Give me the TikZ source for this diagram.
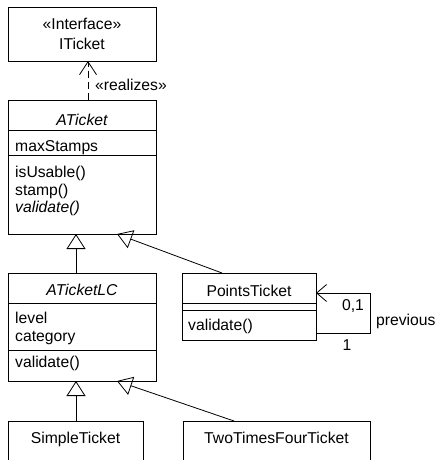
\documentclass[tikz,border=0pt]{standalone}
\usepackage{fontspec}
\setmainfont{Liberation Sans}
\usetikzlibrary{arrows.meta}
\begin{document}
\begin{tikzpicture}[x=1pt,y=-1pt,
  box/.style={draw, line width=0.8pt, rectangle, inner sep=0pt, anchor=north west},
  txt/.style={inner sep=0pt, font=\fontsize{15.7}{18}\selectfont},
  ctxt/.style={txt, anchor=base},
  ltxt/.style={txt, anchor=base west},
  sep/.style={line width=0.8pt},
  conn/.style={line width=0.8pt},
  gen/.style={conn, -{Triangle[open, length=15pt, width=19pt]}},
  nav/.style={conn, -{Straight Barb[length=10pt, width=17pt]}},
  rel/.style={conn, dash pattern=on 7pt off 4pt, -{Straight Barb[length=13pt, width=17pt]}},
]
\clip (0,0) rectangle (436,460);
\fill[white] (0,0) rectangle (436,460);

% ITicket
\node[box, minimum width=148pt, minimum height=54pt] (iticket) at (8,7) {};
\node[ctxt] (itst) at (82,29.5) {«Interface»};
\node[ctxt] (itname) at (82,49.5) {ITicket};

% ATicket
\node[box, minimum width=148pt, minimum height=134pt] (aticket) at (8,100) {};
\draw[sep] (8,130) -- (156,130);
\draw[sep] (8,155) -- (156,155);
\node[ctxt] (atname) at (82,125) {\itshape ATicket};
\node[ltxt] (atattr) at (15,151) {maxStamps};
\node[ltxt] (atop1) at (15,177) {isUsable()};
\node[ltxt] (atop2) at (15,195) {stamp()};
\node[ltxt] (atop3) at (15,212.5) {\itshape validate()};

% ATicketLC
\node[box, minimum width=148pt, minimum height=108pt] (atlc) at (8,273) {};
\draw[sep] (8,303) -- (156,303);
\draw[sep] (8,350) -- (156,350);
\node[ctxt] (lcname) at (82,295) {\itshape ATicketLC};
\node[ltxt] (lca1) at (15,323) {level};
\node[ltxt] (lca2) at (15,341.5) {category};
\node[ltxt] (lcop) at (15,367) {validate()};

% PointsTicket
\node[box, minimum width=134pt, minimum height=67pt] (pt) at (182,273) {};
\draw[sep] (182,303) -- (316,303);
\draw[sep] (182,310) -- (316,310);
\node[ctxt] (ptname) at (249,296.5) {PointsTicket};
\node[ltxt] (ptop) at (188,330.5) {validate()};

% SimpleTicket
\node[box, minimum width=135pt, minimum height=60pt] (st) at (8,421) {};
\node[ctxt] (stname) at (75.5,443.3) {SimpleTicket};

% TwoTimesFourTicket
\node[box, minimum width=187pt, minimum height=60pt] (tt) at (183,421) {};
\node[ctxt] (ttname) at (276.5,443.3) {TwoTimesFourTicket};

% connector end points
\coordinate (r1) at (88,100);
\coordinate (r2) at (88,61);
\coordinate (g1a) at (76,273);
\coordinate (g1b) at (76,234);
\coordinate (g2a) at (222,273);
\coordinate (g2b) at (117,234);
\coordinate (g3a) at (76,421);
\coordinate (g3b) at (76,381);
\coordinate (g4a) at (234,421);
\coordinate (g4b) at (117,381);
\coordinate (s1) at (316,333);
\coordinate (s2) at (370,333);
\coordinate (s3) at (370,293);
\coordinate (s4) at (316,293);

\draw[rel] (r1) -- (r2);
\node[txt, anchor=base west] (rlab) at (95,90.7) {«realizes»};
\draw[gen] (g1a) -- (g1b);
\draw[gen] (g2a) -- (g2b);
\draw[gen] (g3a) -- (g3b);
\draw[gen] (g4a) -- (g4b);
\draw[nav] (s1) -- (s2) -- (s3) -- (s4);
\node[ctxt] (m1) at (353,310) {0,1};
\node[ltxt] (m2) at (376,325) {previous};
\node[ctxt] (m3) at (347,350) {1};
\end{tikzpicture}
\end{document}
